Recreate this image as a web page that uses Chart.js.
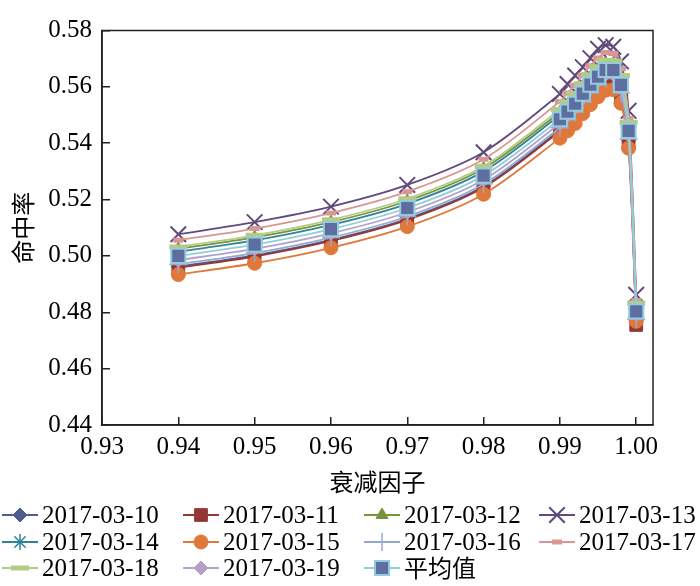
<!DOCTYPE html>
<html>
<head>
<meta charset="utf-8">
<script src="https://cdn.jsdelivr.net/npm/chart.js"></script>
<style>
  body { margin: 0; background: #fff; }
</style>
</head>
<body>
<canvas id="myChart" width="700" height="586"></canvas>
<script>
// decay factor (x) and hit rate per day (y)
const decay = [0.94, 0.95, 0.96, 0.97, 0.98, 0.99, 0.991, 0.992, 0.993, 0.994, 0.995, 0.996, 0.997, 0.998, 0.999, 1.0];

const hit0310 = [0.4962, 0.5002, 0.5057, 0.5132, 0.5247, 0.5447, 0.5474, 0.5502, 0.5538, 0.5570, 0.5598, 0.5622, 0.5623, 0.5570, 0.5408, 0.4770];
const hit0311 = [0.4958, 0.4998, 0.5053, 0.5128, 0.5243, 0.5442, 0.5470, 0.5498, 0.5533, 0.5566, 0.5594, 0.5618, 0.5619, 0.5566, 0.5398, 0.4755];
const hit0312 = [0.5025, 0.5066, 0.5120, 0.5195, 0.5310, 0.5510, 0.5538, 0.5566, 0.5601, 0.5633, 0.5661, 0.5685, 0.5684, 0.5632, 0.5467, 0.4825];
const hit0313 = [0.5077, 0.5120, 0.5175, 0.5252, 0.5368, 0.5575, 0.5610, 0.5640, 0.5670, 0.5702, 0.5735, 0.5748, 0.5742, 0.5690, 0.5515, 0.4862];
const hit0314 = [0.5015, 0.5055, 0.5110, 0.5185, 0.5300, 0.5500, 0.5527, 0.5555, 0.5591, 0.5623, 0.5651, 0.5675, 0.5675, 0.5622, 0.5458, 0.4814];
const hit0315 = [0.4934, 0.4974, 0.5029, 0.5104, 0.5219, 0.5418, 0.5444, 0.5470, 0.5505, 0.5537, 0.5565, 0.5588, 0.5590, 0.5542, 0.5382, 0.4768];
const hit0316 = [0.4970, 0.5010, 0.5065, 0.5140, 0.5255, 0.5455, 0.5482, 0.5510, 0.5546, 0.5578, 0.5606, 0.5630, 0.5631, 0.5578, 0.5415, 0.4775];
const hit0317 = [0.5056, 0.5097, 0.5152, 0.5228, 0.5343, 0.5548, 0.5578, 0.5606, 0.5642, 0.5675, 0.5702, 0.5722, 0.5718, 0.5664, 0.5488, 0.4842];
const hit0318 = [0.5032, 0.5073, 0.5128, 0.5203, 0.5318, 0.5520, 0.5547, 0.5576, 0.5611, 0.5643, 0.5671, 0.5694, 0.5692, 0.5640, 0.5474, 0.4833];
const hit0319 = [0.4985, 0.5025, 0.5080, 0.5155, 0.5270, 0.5470, 0.5497, 0.5525, 0.5561, 0.5593, 0.5621, 0.5645, 0.5645, 0.5593, 0.5430, 0.4793];
const hitAvg  = [0.5000, 0.5040, 0.5095, 0.5170, 0.5285, 0.5485, 0.5512, 0.5540, 0.5576, 0.5608, 0.5636, 0.5660, 0.5660, 0.5607, 0.5444, 0.4803];

const seriesNames = ['2017-03-10', '2017-03-11', '2017-03-12', '2017-03-13', '2017-03-14',
  '2017-03-15', '2017-03-16', '2017-03-17', '2017-03-18', '2017-03-19', '平均值'];
const seriesData = [hit0310, hit0311, hit0312, hit0313, hit0314, hit0315, hit0316, hit0317, hit0318, hit0319, hitAvg];

const xTickValues = [0.93, 0.94, 0.95, 0.96, 0.97, 0.98, 0.99, 1.00];
const yTickValues = [0.44, 0.46, 0.48, 0.50, 0.52, 0.54, 0.56, 0.58];

// look of each series (Excel-ish palette)
const styles = [
  { color: '#4F5E91', fill: '#4F5E91', point: 'rectRot', r: 7, bw: 1 },
  { color: '#953735', fill: '#953735', point: 'rect', r: 9, bw: 1 },
  { color: '#77933C', fill: '#77933C', point: 'triangle', r: 7, bw: 1 },
  { color: '#604A7B', fill: 'rgba(0,0,0,0)', point: 'crossRot', r: 11, bw: 2 },
  { color: '#31849B', fill: '#31849B', point: 'star', r: 8, bw: 1.5 },
  { color: '#E0783A', fill: '#E0783A', point: 'circle', r: 7, bw: 1 },
  { color: '#95A8D2', fill: '#95A8D2', point: 'cross', r: 9, bw: 1.5 },
  { color: '#D99694', fill: '#D99694', point: 'line', r: 5, bw: 5 },
  { color: '#B3CB85', fill: '#B3CB85', point: 'line', r: 9, bw: 5 },
  { color: '#B3A2C7', fill: '#B3A2C7', point: 'rectRot', r: 7, bw: 1 },
  { color: '#93CDDD', fill: '#5F6EA1', point: 'rect', r: 10, bw: 2 }
];

const serif = '"Liberation Serif", "Times New Roman", "DejaVu Serif", serif';
const cjk = '"Noto Sans CJK SC", sans-serif';
const ink = '#231F20';

const datasets = seriesData.map((vals, i) => ({
  label: seriesNames[i],
  data: decay.map((x, j) => ({ x: x, y: vals[j] })),
  borderColor: styles[i].color,
  borderWidth: 1.8,
  backgroundColor: styles[i].fill,
  pointStyle: styles[i].point,
  pointRadius: styles[i].r,
  pointHoverRadius: styles[i].r,
  pointBorderWidth: styles[i].bw,
  pointBorderColor: i === 10 ? '#93CDDD' : styles[i].color,
  pointBackgroundColor: styles[i].fill,
  tension: 0.3,
  order: 10 - i
}));

// frame round the plot + the legend under it
const framePlugin = {
  id: 'frame',
  afterDraw(chart) {
    const ctx = chart.ctx;
    const a = chart.chartArea;
    ctx.save();
    ctx.strokeStyle = ink;
    ctx.lineWidth = 1.5;
    ctx.strokeRect(a.left, a.top, a.right - a.left, a.bottom - a.top);

    const cols = [0, 181, 362, 537];
    const rows = [515, 542, 568];
    ctx.textBaseline = 'middle';
    ctx.textAlign = 'left';
    seriesNames.forEach((name, i) => {
      const x0 = cols[i % 4];
      const y = rows[Math.floor(i / 4)];
      const st = styles[i];
      ctx.strokeStyle = st.color;
      ctx.lineWidth = 1.8;
      ctx.beginPath();
      ctx.moveTo(x0 + 2, y);
      ctx.lineTo(x0 + 38, y);
      ctx.stroke();
      ctx.fillStyle = st.fill;
      ctx.strokeStyle = i === 10 ? '#93CDDD' : st.color;
      ctx.lineWidth = st.bw;
      Chart.helpers.drawPoint(ctx, { pointStyle: st.point, radius: st.r, borderWidth: st.bw, rotation: 0 }, x0 + 20, y);
      ctx.fillStyle = '#000';
      ctx.font = (i === 10 ? '24px ' + cjk : '25px ' + serif);
      ctx.fillText(name, x0 + 42, y + (i === 10 ? 0 : 1));
    });
    ctx.restore();
  }
};

const ctx = document.getElementById('myChart');
new Chart(ctx, {
  type: 'line',
  data: { datasets: datasets },
  options: {
    responsive: false,
    animation: false,
    devicePixelRatio: 1,
    layout: { padding: { left: 0, right: 47, top: 13, bottom: 89.6 } },
    plugins: {
      legend: { display: false },
      tooltip: { enabled: false }
    },
    scales: {
      x: {
        type: 'linear',
        min: 0.93,
        max: 1.0022,
        afterBuildTicks: (scale) => { scale.ticks = xTickValues.map(v => ({ value: v })); },
        afterFit: (scale) => { scale.height = 71.4; },
        ticks: {
          autoSkip: false,
          maxRotation: 0,
          padding: 17.5,
          color: '#000',
          font: { family: serif, size: 25, lineHeight: 1 },
          callback: (v) => v.toFixed(2)
        },
        grid: { drawOnChartArea: false, drawTicks: true, tickLength: -8, color: ink, lineWidth: 1.5 },
        border: { display: true, color: ink, width: 1.5 },
        title: {
          display: true,
          text: '衰减因子',
          color: '#000',
          padding: { top: 0, bottom: 0 },
          font: { family: cjk, size: 24, lineHeight: 1.2 }
        }
      },
      y: {
        min: 0.44,
        max: 0.58,
        afterBuildTicks: (scale) => { scale.ticks = yTickValues.map(v => ({ value: v })); },
        afterFit: (scale) => { scale.width = 102; },
        ticks: {
          padding: 18,
          color: '#000',
          font: { family: serif, size: 25, lineHeight: 1 },
          callback: (v) => v.toFixed(2)
        },
        grid: { drawOnChartArea: false, drawTicks: true, tickLength: -8, color: ink, lineWidth: 1.5 },
        border: { display: true, color: ink, width: 1.5 },
        title: {
          display: true,
          text: '命中率',
          color: '#000',
          padding: { top: 8, bottom: 0 },
          font: { family: cjk, size: 24, lineHeight: 1.2 }
        }
      }
    }
  },
  plugins: [framePlugin]
});
</script>
</body>
</html>
